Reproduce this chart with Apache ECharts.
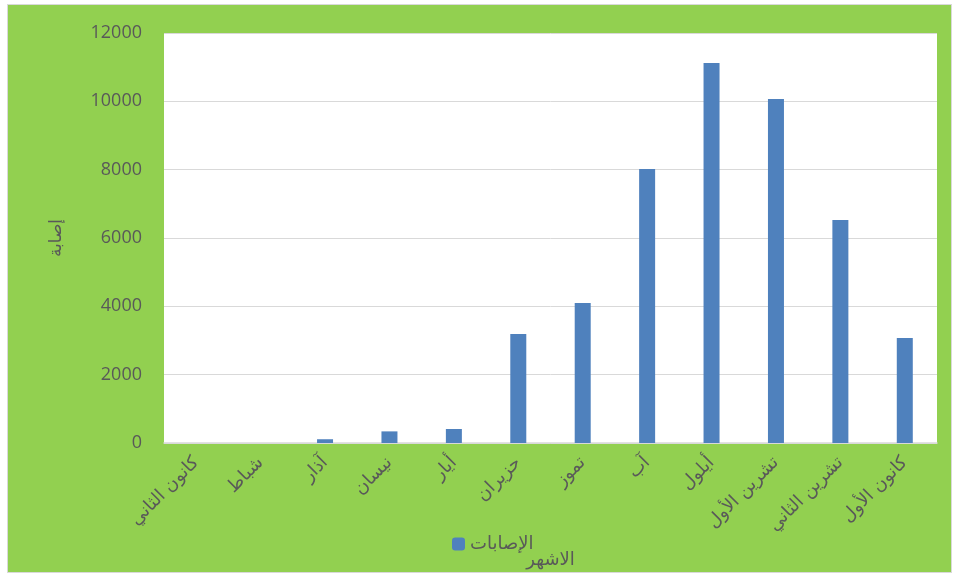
<!DOCTYPE html>
<html>
<head>
<meta charset="utf-8">
<script src="https://cdn.jsdelivr.net/npm/echarts@6/dist/echarts.min.js"></script>
<style>
  html, body { margin: 0; padding: 0; background: #fff; }
  #main {
    position: absolute; left: 7px; top: 4px;
    width: 943px; height: 567px;
    border: 1px solid #d9d9d9;
    background: #92d050;
  }
</style>
</head>
<body>
<div id="main"></div>
<script>
// الأشهر
const months = ['كانون الثاني', 'شباط', 'آذار', 'نيسان', 'أيار', 'حزيران', 'تموز', 'آب', 'أيلول', 'تشرين الأول', 'تشرين الثاني', 'كانون الأول']
const cases = [0, 0, 110, 340, 410, 3190, 4100, 8020, 11120, 10070, 6530, 3070]
const seriesName = 'الإصابات'

const chart = echarts.init(document.getElementById('main'))
const option = {
  animation: false,
  grid: {
    left: 156, top: 28, width: 773, height: 410,
    outerBoundsMode: 'none', containLabel: false,
    show: true, backgroundColor: '#fff', borderWidth: 0
  },
  legend: {
    data: [seriesName],
    left: 439, top: 525,
    itemWidth: 13, itemHeight: 13, itemGap: 5,
    textStyle: {fontFamily: 'DejaVu Sans', fontSize: 18, color: '#595959'}
  },
  xAxis: {
    type: 'category',
    data: months,
    name: 'الاشهر',
    nameLocation: 'middle',
    nameGap: 108,
    nameTextStyle: {fontFamily: 'DejaVu Sans', fontSize: 18, color: '#595959'},
    axisLine: {lineStyle: {color: '#d9d9d9', width: 1.5}},
    axisTick: {show: false},
    axisLabel: {
      interval: 0, rotate: 45, margin: 17,
      fontFamily: 'DejaVu Sans', fontSize: 18, color: '#595959'
    }
  },
  yAxis: {
    type: 'value',
    min: 0, max: 12000, interval: 2000,
    name: 'إصابة',
    nameLocation: 'middle',
    nameGap: 99,
    nameTextStyle: {fontFamily: 'DejaVu Sans', fontSize: 17, color: '#595959'},
    axisLine: {show: false},
    axisTick: {show: false},
    splitLine: {lineStyle: {color: '#d9d9d9', width: 1}},
    axisLabel: {
      margin: 22, fontFamily: 'Open Sans', fontSize: 18, color: '#595959',
      formatter: (v) => String(v)
    }
  },
  series: [
    {
      name: seriesName,
      type: 'bar',
      data: cases,
      barWidth: 16,
      itemStyle: {color: '#4f81bd'}
    }
  ]
}
chart.setOption(option)
</script>
</body>
</html>
